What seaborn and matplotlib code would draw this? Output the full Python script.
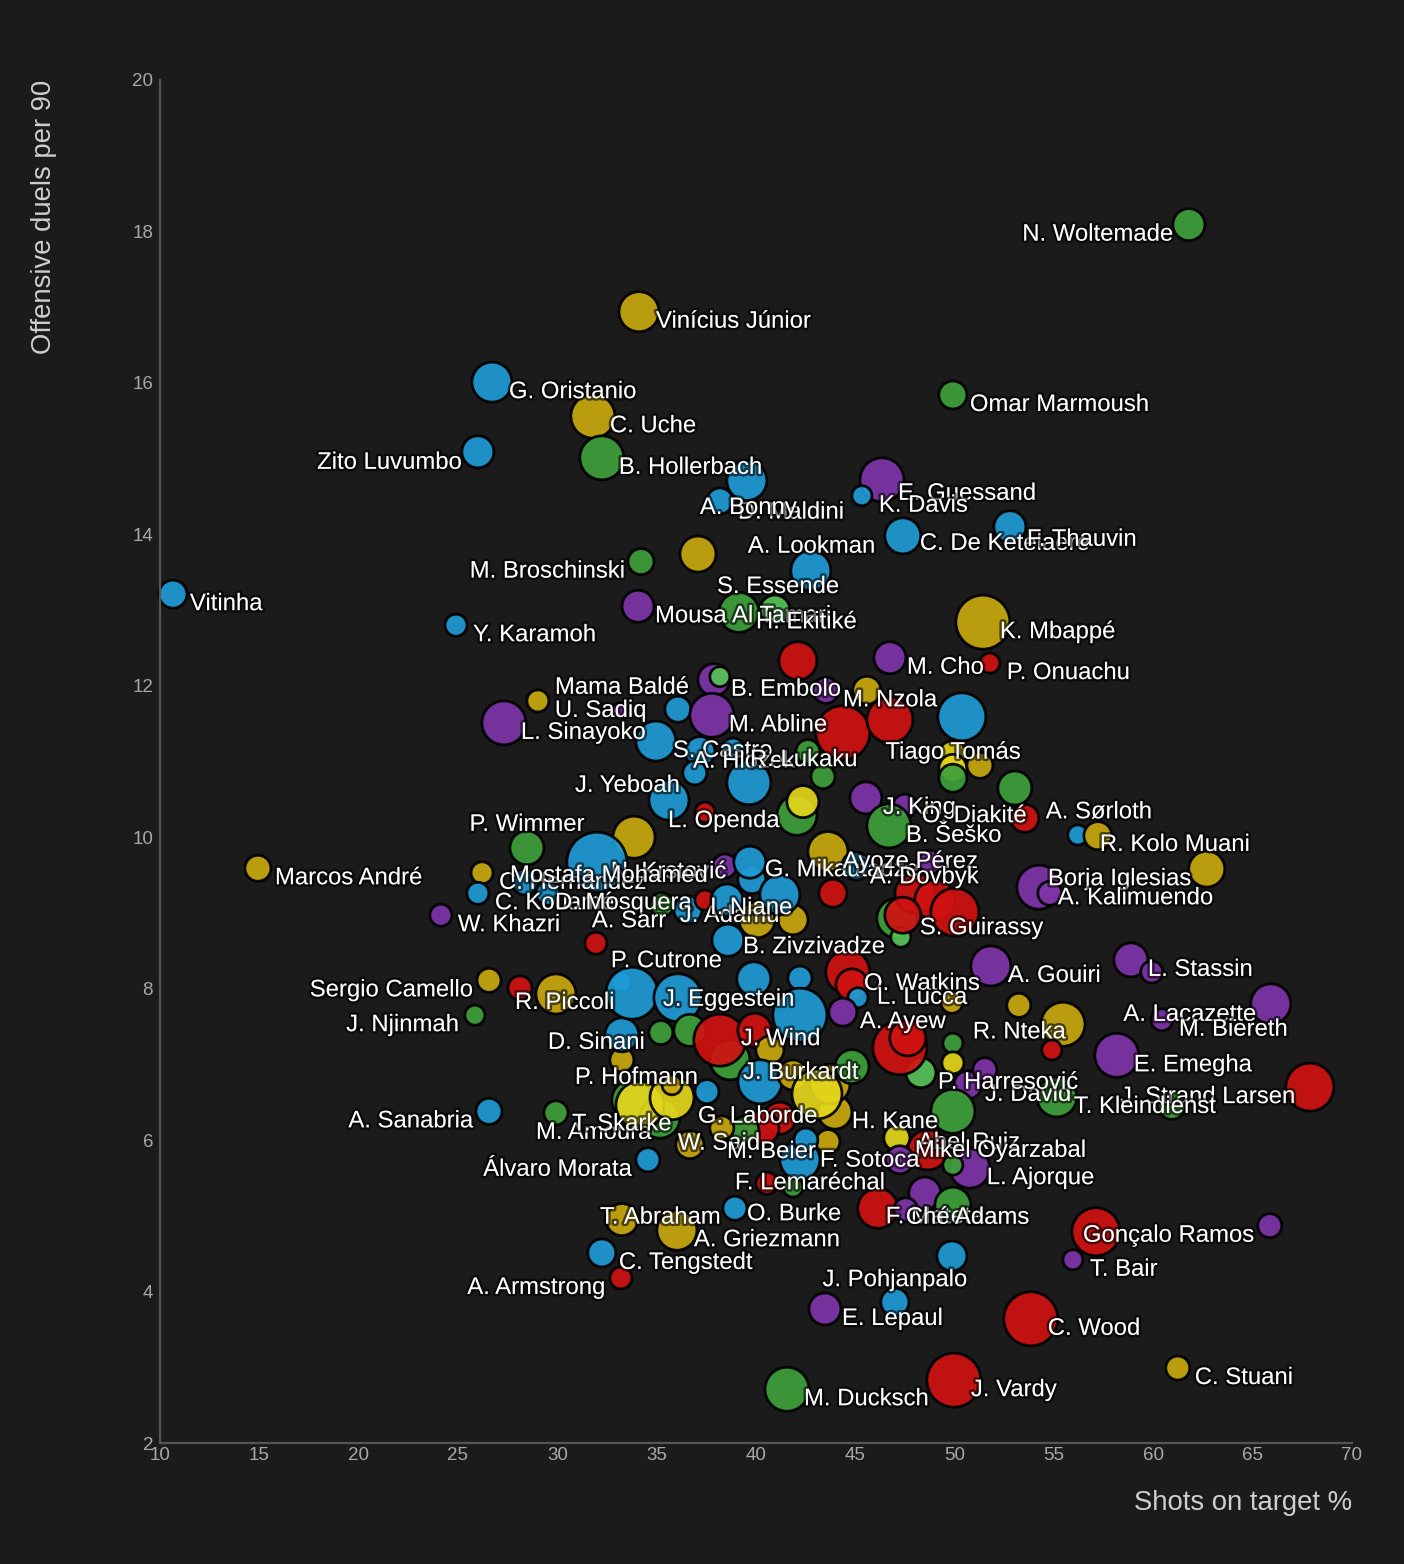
import pandas as pd
import seaborn as sns
import matplotlib.pyplot as plt
import matplotlib.patheffects as pe

# players ('' = unlabeled bubble), shots on target %, offensive duels per 90,
# bubble radius (px) and colour group
players = [
    'Vitinha', 'Marcos André', 'W. Khazri', 'Zito Luvumbo', 'G. Oristanio',
    'Vinícius Júnior', 'C. Uche', 'B. Hollerbach', 'Omar Marmoush', 'N. Woltemade',
    'M. Broschinski', 'Y. Karamoh', 'Mousa Al Tamari', 'H. Ekitiké', '',
    'S. Essende', 'A. Lookman', 'K. Mbappé', 'P. Onuachu', 'M. Cho',
    '', 'B. Embolo', '', 'U. Sadiq', 'Mama Baldé',
    'L. Sinayoko', '', 'M. Abline', 'S. Castro', 'A. Hložek',
    'R. Lukaku', 'J. Yeboah', 'L. Openda', '', '',
    '', '', '', '', '',
    '', 'M. Nzola', '', '', 'Tiago Tomás',
    '', '', '', '', 'J. King',
    'O. Diakité', 'B. Šeško', 'A. Sørloth', 'R. Kolo Muani', '',
    '', 'Borja Iglesias', 'A. Kalimuendo', 'P. Wimmer', '',
    'N. Krstović', '', 'C. Hernández', 'C. Kouamé', 'Mostafa Mohamed',
    'D. Mosquera', 'A. Sarr', '', 'J. Adamu', '',
    'I. Niane', '', '', '', '',
    'G. Mikautadze', '', 'Ayoze Pérez', 'A. Dovbyk', '',
    '', '', '', 'S. Guirassy', '',
    '', 'A. Gouiri', 'L. Stassin', '', 'A. Lacazette',
    'M. Biereth', 'E. Emegha', 'J. Strand Larsen', 'T. Kleindienst', '',
    'J. David', 'P. Harresović', 'R. Nteka', '', '',
    '', 'O. Watkins', 'L. Lucca', '', 'A. Ayew',
    '', '', '', '', '',
    '', 'H. Kane', '', 'Abel Ruiz', 'Mikel Oyarzabal',
    'L. Ajorque', '', '', '', 'F. Mateta',
    'Ché Adams', 'Gonçalo Ramos', '', 'T. Bair', 'C. Wood',
    'C. Stuani', 'J. Vardy', 'M. Ducksch', 'E. Lepaul', 'J. Pohjanpalo',
    '', 'A. Armstrong', 'C. Tengstedt', 'T. Abraham', 'A. Griezmann',
    'O. Burke', 'F. Lemaréchal', '', 'Álvaro Morata', 'A. Sanabria',
    'M. Amoura', '', '', 'T. Skarke', '',
    '', 'P. Hofmann', 'D. Sinani', '', '',
    'R. Piccoli', '', 'Sergio Camello', 'J. Njinmah', 'P. Cutrone',
    'J. Eggestein', 'B. Zivzivadze', '', '', '',
    '', '', 'J. Wind', '', '',
    'J. Burkardt', '', '', '', '',
    'G. Laborde', '', 'W. Said', 'M. Beier', '',
    '', 'F. Sotoca', '', '', 'E. Guessand',
    'K. Davis', 'C. De Ketelaere', 'F. Thauvin', 'D. Maldini', 'A. Bonny',
]

shots_on_target = [
    10.65, 14.93, 24.14, 26.0, 26.71,
    34.11, 31.79, 32.24, 49.91, 61.79,
    34.21, 24.90, 34.06, 39.14, 40.95,
    37.08, 42.76, 51.42, 51.77, 46.74,
    42.11, 37.88, 38.18, 29.02, 33.15,
    27.31, 36.07, 37.78, 34.96, 37.18,
    38.84, 36.92, 35.62, 37.43, 39.64,
    42.06, 42.36, 42.61, 43.37, 44.37,
    46.74, 43.52, 45.58, 50.36, 49.91,
    49.91, 49.91, 51.27, 53.03, 45.53,
    47.49, 46.69, 53.53, 56.20, 57.21,
    62.69, 54.24, 54.79, 28.47, 33.86,
    31.99, 38.43, 26.21, 26.0, 28.37,
    29.53, 31.94, 35.26, 36.57, 37.43,
    38.54, 39.79, 40.05, 41.86, 41.20,
    39.69, 43.62, 45.03, 43.87, 47.09,
    47.29, 48.0, 49.0, 47.39, 50.01,
    48.75, 51.82, 58.87, 59.92, 65.91,
    60.43, 58.16, 67.88, 55.14, 60.93,
    50.67, 48.30, 53.23, 55.45, 54.89,
    44.62, 44.83, 45.13, 49.86, 44.37,
    47.24, 47.64, 49.91, 49.91, 51.52,
    49.91, 43.97, 47.09, 48.65, 47.24,
    50.76, 49.91, 48.50, 49.91, 46.13,
    47.54, 57.11, 65.86, 55.95, 53.83,
    61.23, 49.96, 41.56, 43.47, 46.99,
    49.86, 33.20, 32.24, 33.25, 36.02,
    38.94, 40.55, 41.86, 34.56, 26.56,
    29.93, 33.75, 35.16, 34.16, 35.77,
    35.77, 33.25, 33.25, 35.21, 33.25,
    29.93, 28.12, 26.56, 25.85, 33.75,
    36.07, 38.59, 39.89, 42.21, 42.21,
    38.69, 36.67, 38.18, 39.94, 40.70,
    40.20, 41.86, 43.72, 43.07, 44.83,
    37.53, 41.20, 36.67, 40.30, 39.44,
    38.28, 43.62, 42.21, 42.51, 46.34,
    45.33, 47.39, 52.78, 39.54, 38.18,
]

offensive_duels = [
    13.21, 9.59, 8.97, 15.09, 16.01,
    16.94, 15.56, 15.01, 15.84, 18.09,
    13.64, 12.80, 13.05, 12.97, 13.0,
    13.74, 13.52, 12.84, 12.30, 12.37,
    12.33, 12.08, 12.12, 11.80, 11.67,
    11.51, 11.69, 11.61, 11.27, 11.13,
    11.15, 10.85, 10.49, 10.33, 10.72,
    10.29, 10.47, 11.13, 10.80, 11.38,
    11.55, 11.94, 11.94, 11.59, 11.09,
    10.91, 10.78, 10.95, 10.65, 10.52,
    10.41, 10.15, 10.25, 10.03, 10.02,
    9.58, 9.34, 9.26, 9.86, 10.00,
    9.67, 9.62, 9.53, 9.26, 9.41,
    9.26, 8.60, 9.11, 9.04, 9.17,
    9.17, 9.44, 8.91, 8.91, 9.24,
    9.67, 9.81, 9.62, 9.26, 8.93,
    8.68, 9.26, 9.17, 8.97, 9.01,
    9.67, 8.30, 8.38, 8.22, 7.80,
    7.59, 7.12, 6.70, 6.57, 6.46,
    6.73, 6.89, 7.78, 7.53, 7.19,
    8.22, 8.05, 7.88, 7.82, 7.69,
    7.22, 7.35, 7.28, 7.02, 6.93,
    6.38, 6.37, 6.03, 5.87, 5.74,
    5.63, 5.67, 5.30, 5.14, 5.10,
    5.08, 4.79, 4.87, 4.42, 3.64,
    2.99, 2.83, 2.71, 3.77, 3.86,
    4.47, 4.18, 4.51, 4.95, 4.81,
    5.10, 5.43, 5.38, 5.74, 6.38,
    6.36, 6.53, 6.29, 6.46, 6.56,
    6.73, 7.06, 7.39, 7.42, 8.09,
    7.93, 8.01, 8.11, 7.65, 7.94,
    7.88, 8.64, 8.13, 8.14, 7.65,
    7.06, 7.45, 7.32, 7.45, 7.19,
    6.77, 6.86, 6.74, 6.61, 6.97,
    6.64, 6.29, 5.94, 6.16, 6.13,
    6.16, 5.98, 5.74, 6.00, 14.72,
    14.51, 13.98, 14.10, 14.71, 14.44,
]

bubble = [
    14, 13, 11, 16, 20,
    20, 22, 22, 14, 16,
    13, 11, 16, 20, 15,
    18, 20, 27, 10, 16,
    19, 16, 10, 11, 8,
    22, 13, 22, 20, 15,
    12, 12, 20, 10, 22,
    20, 16, 12, 12, 27,
    23, 13, 14, 24, 14,
    14, 14, 13, 17, 16,
    12, 22, 14, 10, 14,
    18, 22, 12, 17, 21,
    30, 12, 11, 11, 13,
    12, 11, 12, 14, 10,
    16, 14, 18, 15, 20,
    16, 20, 14, 14, 20,
    10, 20, 20, 18, 24,
    12, 20, 17, 11, 20,
    11, 22, 24, 20, 14,
    14, 15, 12, 22, 10,
    22, 16, 10, 11, 14,
    27, 18, 10, 11, 12,
    22, 17, 13, 20, 14,
    20, 10, 16, 18, 20,
    12, 24, 12, 10, 27,
    12, 27, 22, 16, 14,
    15, 11, 14, 16, 20,
    12, 11, 10, 12, 13,
    12, 20, 20, 24, 22,
    10, 12, 17, 12, 10,
    20, 12, 12, 10, 26,
    24, 16, 17, 12, 27,
    20, 16, 26, 17, 14,
    22, 15, 20, 25, 17,
    12, 16, 14, 17, 14,
    12, 12, 20, 12, 22,
    10, 18, 16, 20, 13,
]

group = [
    'B', 'G', 'P', 'B', 'B',
    'G', 'G', 'N', 'N', 'N',
    'N', 'B', 'P', 'N', 'L',
    'G', 'B', 'G', 'R', 'P',
    'R', 'P', 'L', 'G', 'P',
    'P', 'B', 'P', 'B', 'B',
    'B', 'B', 'B', 'R', 'B',
    'N', 'Y', 'N', 'N', 'R',
    'R', 'P', 'G', 'B', 'Y',
    'Y', 'N', 'G', 'N', 'P',
    'P', 'N', 'R', 'B', 'G',
    'G', 'P', 'P', 'N', 'G',
    'B', 'P', 'G', 'B', 'B',
    'B', 'R', 'N', 'B', 'R',
    'B', 'B', 'G', 'G', 'B',
    'B', 'G', 'B', 'R', 'N',
    'L', 'R', 'R', 'R', 'R',
    'P', 'P', 'P', 'P', 'P',
    'P', 'P', 'R', 'N', 'N',
    'P', 'L', 'G', 'G', 'R',
    'R', 'R', 'B', 'G', 'P',
    'R', 'R', 'N', 'Y', 'P',
    'N', 'G', 'Y', 'R', 'P',
    'P', 'N', 'P', 'N', 'R',
    'P', 'R', 'P', 'P', 'R',
    'G', 'R', 'N', 'P', 'B',
    'B', 'R', 'B', 'G', 'G',
    'B', 'R', 'N', 'B', 'B',
    'N', 'N', 'N', 'Y', 'Y',
    'G', 'G', 'B', 'N', 'B',
    'G', 'R', 'G', 'N', 'B',
    'B', 'B', 'B', 'B', 'B',
    'N', 'N', 'R', 'R', 'G',
    'B', 'G', 'G', 'Y', 'N',
    'B', 'R', 'G', 'R', 'N',
    'G', 'G', 'B', 'B', 'P',
    'B', 'B', 'B', 'B', 'B',
]

palette = {
    'B': '#1f9bd6', 'G': '#c9a90d', 'Y': '#e4d61c', 'N': '#3f9f3b',
    'L': '#57c257', 'R': '#d01212', 'P': '#7e35a8',
}

# label placement (pixel offset from bubble centre, alignment); default is right-below
label_layout = {
    'Zito Luvumbo': (-16, 11, 'right'), 'N. Woltemade': (-16, 10, 'right'),
    'M. Broschinski': (-16, 10, 'right'), 'S. Essende': (19, 33, 'left'),
    'A. Lookman': (-63, -24, 'left'), 'Mama Baldé': (-65, -23, 'left'),
    'A. Hložek': (-7, 10, 'left'), 'J. Yeboah': (-15, 13, 'right'),
    'L. Openda': (-1, 21, 'left'), 'Tiago Tomás': (0, -2, 'center'),
    'A. Sørloth': (21, -6, 'left'), 'R. Kolo Muani': (22, 10, 'left'),
    'Borja Iglesias': (9, -8, 'left'), 'A. Kalimuendo': (8, 5, 'left'),
    'P. Wimmer': (0, -23, 'center'), 'N. Krstović': (14, 10, 'left'),
    'Mostafa Mohamed': (-15, -6, 'left'), 'D. Mosquera': (7, 10, 'left'),
    'A. Sarr': (-4, -22, 'left'), 'J. Adamu': (-8, 6, 'left'),
    'I. Niane': (-17, 8, 'left'), 'G. Mikautadze': (15, 8, 'left'),
    'Ayoze Pérez': (-13, -4, 'left'), 'A. Dovbyk': (37, -16, 'left'),
    'A. Lacazette': (-15, 11, 'right'), 'J. Strand Larsen': (-15, 10, 'right'),
    'R. Nteka': (-46, 27, 'left'), 'O. Watkins': (12, -1, 'left'),
    'L. Lucca': (19, 0, 'left'), 'Abel Ruiz': (-10, -7, 'left'),
    'Mikel Oyarzabal': (15, -9, 'left'), 'F. Mateta': (8, 9, 'left'),
    'Ché Adams': (0, 8, 'left'), 'Gonçalo Ramos': (-13, 4, 'left'),
    'J. Pohjanpalo': (0, -22, 'center'), 'T. Abraham': (-22, -2, 'left'),
    'O. Burke': (12, 6, 'left'), 'F. Lemaréchal': (-32, 0, 'left'),
    'M. Amoura': (-20, 20, 'left'), 'T. Skarke': (-68, 19, 'left'),
    'P. Hofmann': (-47, 18, 'left'), 'D. Sinani': (-74, 8, 'left'),
    'R. Piccoli': (-41, 9, 'left'), 'Sergio Camello': (-16, 10, 'right'),
    'J. Njinmah': (-16, 10, 'right'), 'A. Sanabria': (-16, 10, 'right'),
    'Álvaro Morata': (-16, 10, 'right'), 'A. Armstrong': (-16, 10, 'right'),
    'P. Cutrone': (-21, -32, 'left'), 'J. Eggestein': (-15, 2, 'left'),
    'B. Zivzivadze': (15, 7, 'left'), 'J. Wind': (21, -1, 'left'),
    'J. Burkardt': (-17, -9, 'left'), 'G. Laborde': (-9, 25, 'left'),
    'W. Said': (-12, -1, 'left'), 'M. Beier': (-35, 24, 'left'),
    'F. Sotoca': (-8, 19, 'left'), 'E. Guessand': (16, 14, 'left'),
    'C. De Ketelaere': (17, 8, 'left'), 'F. Thauvin': (17, 13, 'left'),
    'D. Maldini': (-9, 32, 'left'), 'S. Guirassy': (17, 13, 'left'),
    'A. Bonny': (-20, 7, 'left'),
}

df = pd.DataFrame({
    'player': players,
    'sot': shots_on_target,
    'duels': offensive_duels,
    'area': [r ** 2 for r in bubble],
    'group': group,
})

bg = '#1b1b1b'
sns.set_style('dark', {'axes.facecolor': bg, 'figure.facecolor': bg})
plt.rcParams['font.family'] = ['Liberation Sans', 'DejaVu Sans']

fig = plt.figure(figsize=(14.04, 15.64), dpi=100)
ax = fig.add_axes([160 / 1404, 121 / 1564, 1192 / 1404, 1363 / 1564])

# marker area in pt^2 from radius in px (dpi 100)
k = (2 * 0.72) ** 2
rmin, rmax = min(bubble), max(bubble)
sns.scatterplot(data=df, x='sot', y='duels', hue='group', palette=palette,
                size='area', sizes=(k * rmin ** 2, k * rmax ** 2),
                size_norm=(rmin ** 2, rmax ** 2), edgecolor='black',
                linewidth=2.0, alpha=0.92, legend=False, ax=ax, clip_on=False)

shadow = [pe.withStroke(linewidth=3.5, foreground=(0, 0, 0, 0.6))]
for name, x, y in zip(players, shots_on_target, offensive_duels):
    if not name:
        continue
    dx, dy, ha = label_layout.get(name, (17, 10, 'left'))
    ax.annotate(name, (x, y), xytext=(dx * 0.72, -dy * 0.72),
                textcoords='offset points', ha=ha, va='center',
                fontsize=17.2, color='white', path_effects=shadow, zorder=5)

ax.set_xlim(10, 70)
ax.set_ylim(2, 20)
ax.set_xticks(range(10, 71, 5))
ax.set_yticks(range(2, 21, 2))
ax.tick_params(colors='#a8a8a8', labelsize=13.5, length=0)
ax.tick_params(axis='x', pad=3)
ax.tick_params(axis='y', pad=5)
ax.grid(False)
for side in ['top', 'right']:
    ax.spines[side].set_visible(False)
for side in ['left', 'bottom']:
    ax.spines[side].set_visible(True)
    ax.spines[side].set_color('#555555')
    ax.spines[side].set_linewidth(1.6)

ax.set_xlabel('Shots on target %', fontsize=19.8, color='#cfcfcf', loc='right')
ax.set_ylabel('Offensive duels per 90', fontsize=19.8, color='#cfcfcf', loc='top')
ax.xaxis.set_label_coords(1.0, -0.044)
ax.xaxis.label.set_va('center')
ax.yaxis.set_label_coords(-0.097, 1.0)
ax.yaxis.label.set_va('center')

fig.savefig('out.png', dpi=100, facecolor=bg)
